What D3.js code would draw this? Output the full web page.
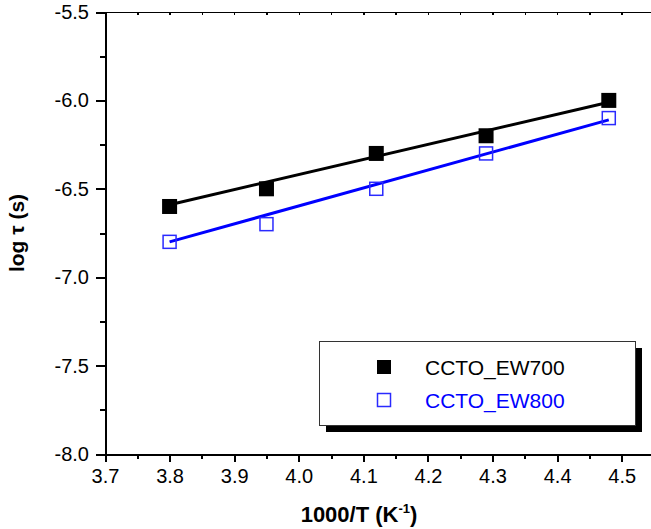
<!DOCTYPE html>
<html lang="en">
<head>
<meta charset="UTF-8">
<title>log tau vs 1000/T</title>
<style>
    body { margin: 0; background: #fff; }
    .axis path, .axis line { fill: none; stroke: #000; stroke-width: 2; shape-rendering: crispEdges; }
    .axis text { font-family: "Liberation Sans", Arial, sans-serif; font-size: 20px; fill: #000; }
    .top path, .top line { stroke-width: 1.5; }
</style>
</head>
<body>
<script src="https://cdn.jsdelivr.net/npm/d3@7"></script>
<script>
    // data
    var xVals = [3.80, 3.95, 4.12, 4.29, 4.48]
    var ew700 = [-6.6, -6.5, -6.3, -6.2, -6.0]
    var ew800 = [-6.8, -6.7, -6.5, -6.3, -6.1]
    // fitted straight lines (end points)
    var fitX = [3.80, 4.48]
    var fit700 = [-6.59, -6.01]
    var fit800 = [-6.80, -6.11]
    var xTicks = [3.7, 3.8, 3.9, 4.0, 4.1, 4.2, 4.3, 4.4, 4.5]
    var xMinor = [3.75, 3.85, 3.95, 4.05, 4.15, 4.25, 4.35, 4.45]
    var yTicks = [-8.0, -7.5, -7.0, -6.5, -6.0, -5.5]
    var yMinor = [-7.75, -7.25, -6.75, -6.25, -5.75]
    var seriesNames = ['CCTO_EW700', 'CCTO_EW800']

    var width = 651, height = 529
    var svg = d3.select('body').append('svg')
        .attr('width', width)
        .attr('height', height)

    var x = d3.scaleLinear().domain([3.7, 4.55]).range([105, 654])
    var y = d3.scaleLinear().domain([-8.0, -5.5]).range([454, 12])
    // plain hyphen for minus, like the original
    var fmt = d => d.toFixed(1)

    // bottom axis
    svg.append('g').attr('class', 'axis')
        .attr('transform', 'translate(0,454)')
        .call(d3.axisBottom(x).tickValues(xTicks).tickFormat(fmt).tickSize(8).tickSizeOuter(0).tickPadding(7))
    svg.append('g').attr('class', 'axis')
        .attr('transform', 'translate(0,454)')
        .call(d3.axisBottom(x).tickValues(xMinor).tickFormat('').tickSize(5).tickSizeOuter(0))
        .select('.domain').remove()

    // left axis
    svg.append('g').attr('class', 'axis')
        .attr('transform', 'translate(105,0)')
        .call(d3.axisLeft(y).tickValues(yTicks).tickFormat(fmt).tickSize(9).tickSizeOuter(0).tickPadding(7))
    svg.append('g').attr('class', 'axis')
        .attr('transform', 'translate(105,0)')
        .call(d3.axisLeft(y).tickValues(yMinor).tickFormat('').tickSize(5).tickSizeOuter(0))
        .select('.domain').remove()

    // top axis, small inward ticks
    svg.append('g').attr('class', 'axis top')
        .attr('transform', 'translate(0,12)')
        .call(d3.axisTop(x).tickValues(xMinor.concat(xTicks)).tickFormat('').tickSize(-3).tickSizeOuter(0))

    // axis titles
    var xt = svg.append('text')
        .attr('x', 359).attr('y', 522)
        .attr('text-anchor', 'middle')
        .style('font-family', '"Liberation Sans", Arial, sans-serif')
        .style('font-size', '22px').style('font-weight', 'bold')
    xt.append('tspan').text('1000/T (K')
    xt.append('tspan').attr('dy', -9).style('font-size', '13px').text('-1')
    xt.append('tspan').attr('dy', 9).text(')')

    svg.append('text')
        .attr('transform', 'translate(24,233) rotate(-90)')
        .attr('text-anchor', 'middle')
        .style('font-family', '"Liberation Sans", Arial, sans-serif')
        .style('font-size', '21px').style('font-weight', 'bold')
        .text('log \u03c4 (s)')

    // fit lines
    var line = d3.line().x(d => x(d[0])).y(d => y(d[1]))
    svg.append('path')
        .attr('d', line(d3.zip(fitX, fit700)))
        .attr('fill', 'none').attr('stroke', '#000').attr('stroke-width', 3)
    svg.append('path')
        .attr('d', line(d3.zip(fitX, fit800)))
        .attr('fill', 'none').attr('stroke', '#0000ff').attr('stroke-width', 3)

    // markers
    var ms = 15
    svg.selectAll('.m700').data(d3.zip(xVals, ew700)).enter()
        .append('rect').attr('class', 'm700')
        .attr('x', d => x(d[0]) - ms / 2).attr('y', d => y(d[1]) - ms / 2)
        .attr('width', ms).attr('height', ms)
        .attr('fill', '#000')
    svg.selectAll('.m800').data(d3.zip(xVals, ew800)).enter()
        .append('rect').attr('class', 'm800')
        .attr('x', d => x(d[0]) - (ms - 2) / 2).attr('y', d => y(d[1]) - (ms - 2) / 2)
        .attr('width', ms - 2).attr('height', ms - 2)
        .attr('fill', 'none').attr('stroke', '#2a2aff').attr('stroke-width', 1.5)

    // legend
    var lg = svg.append('g')
    lg.append('rect').attr('x', 326).attr('y', 348).attr('width', 316).attr('height', 84).attr('fill', '#000')
    lg.append('rect').attr('x', 319.5).attr('y', 341.5).attr('width', 316).attr('height', 84)
        .attr('fill', '#fff').attr('stroke', '#333').attr('stroke-width', 1)
    lg.append('rect').attr('x', 377).attr('y', 360).attr('width', 14).attr('height', 14).attr('fill', '#000')
    lg.append('rect').attr('x', 377.5).attr('y', 393.5).attr('width', 13).attr('height', 13)
        .attr('fill', 'none').attr('stroke', '#2a2aff').attr('stroke-width', 1.5)
    lg.selectAll('.lt').data(seriesNames).enter()
        .append('text')
        .attr('x', 425).attr('y', (d, i) => 375 + i * 33)
        .attr('fill', (d, i) => i ? '#0000ff' : '#000')
        .style('font-family', '"Liberation Sans", Arial, sans-serif')
        .style('font-size', '21px')
        .text(d => d)
</script>
</body>
</html>
